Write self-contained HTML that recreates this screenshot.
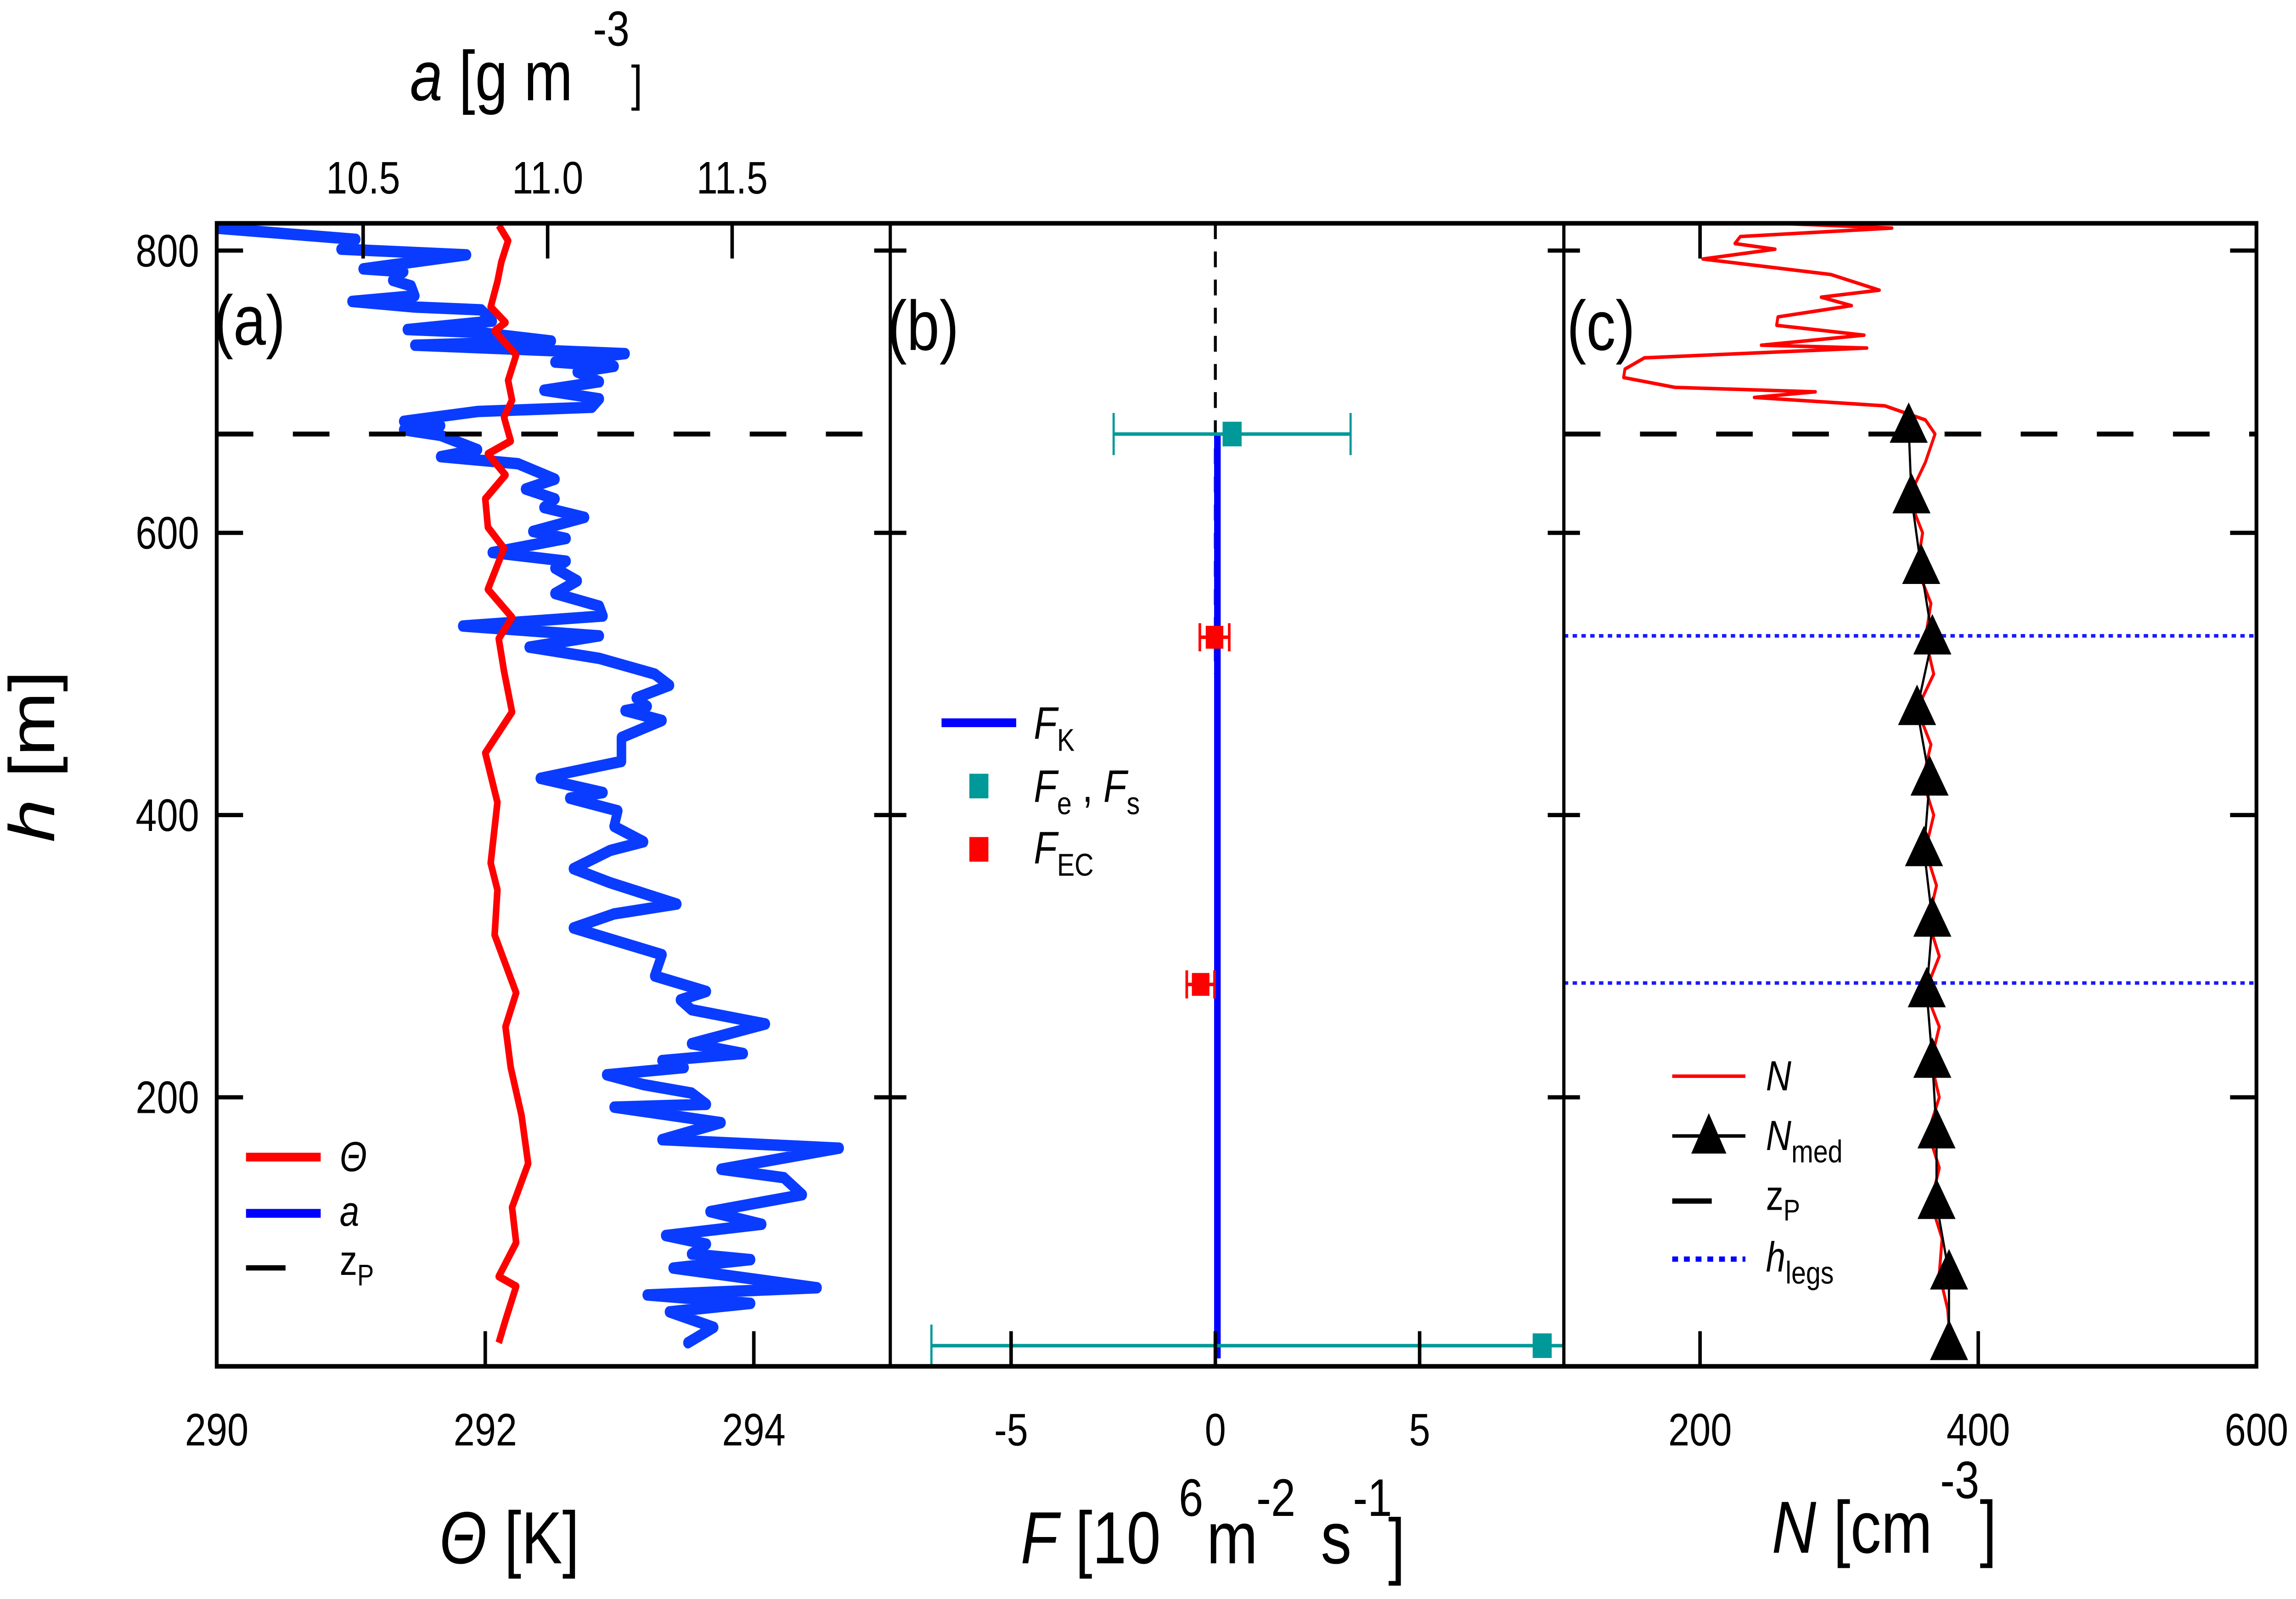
<!DOCTYPE html>
<html><head><meta charset="utf-8">
<style>
html,body{margin:0;padding:0;background:#fff;width:100%;height:100%;overflow:hidden;}
svg{display:block;width:100vw;height:100vh;}
text{font-family:"Liberation Sans",Arial,sans-serif;fill:#000;}
</style></head>
<body>
<svg id="fig" xmlns="http://www.w3.org/2000/svg" viewBox="0 0 1568 909.3" preserveAspectRatio="none">
<defs>
<clipPath id="clipA"><rect x="148" y="127" width="460" height="650"/></clipPath>
<clipPath id="clipB"><rect x="608" y="127" width="460" height="650"/></clipPath>
<clipPath id="clipC"><rect x="1068" y="127" width="473" height="650"/></clipPath>
</defs>
<rect x="0" y="0" width="1568" height="909.3" fill="#fff"/>
<g id="series"></g>
<g id="frame"></g>
<g id="axes"></g>

<text x="146" y="196" font-size="40">(a)</text>
<text x="606" y="199" font-size="40">(b)</text>
<text x="1070" y="199" font-size="40">(c)</text>

<text x="280" y="57" font-size="40"><tspan font-style="italic">a</tspan> [g m</text>
<text x="405" y="26" font-size="28">-3</text>
<text x="431" y="57" font-size="28">]</text>
<text transform="translate(37,479) rotate(-90)" font-size="44"><tspan font-style="italic">h</tspan> [m]</text>
<text x="300" y="889" font-size="42"><tspan font-style="italic">Θ</tspan> [K]</text>
<text x="697" y="889" font-size="42"><tspan font-style="italic">F</tspan>  [10</text>
<text x="805" y="862" font-size="30">6</text>
<text x="824" y="889" font-size="42">m</text>
<text x="858" y="862" font-size="30">-2</text>
<text x="902" y="889" font-size="42">s</text>
<text x="924" y="862" font-size="30">-1</text>
<text x="948" y="893" font-size="42">]</text>
<text x="1210" y="883" font-size="42"><tspan font-style="italic">N</tspan> [cm</text>
<text x="1325" y="852" font-size="30">-3</text>
<text x="1352" y="883" font-size="42">]</text>

<g>
<line x1="168" y1="658" x2="219" y2="658" stroke="#ff0000" stroke-width="5"/>
<text x="232" y="666" font-size="24" font-style="italic">Θ</text>
<line x1="168" y1="690" x2="219" y2="690" stroke="#0000ff" stroke-width="5"/>
<text x="232" y="697" font-size="24" font-style="italic">a</text>
<line x1="168" y1="721" x2="195" y2="721" stroke="#000" stroke-width="3"/>
<text x="232" y="725" font-size="24">z<tspan font-size="17" dy="6">P</tspan></text>
</g>
<g>
<line x1="643" y1="411" x2="694" y2="411" stroke="#0000ff" stroke-width="5"/>
<text x="706" y="420" font-size="26"><tspan font-style="italic">F</tspan><tspan font-size="18" dy="7">K</tspan></text>
<rect x="662" y="440" width="13" height="14" fill="#009999"/>
<text x="706" y="456" font-size="26"><tspan font-style="italic">F</tspan><tspan font-size="18" dy="7">e</tspan><tspan dy="-7"> , </tspan><tspan font-style="italic">F</tspan><tspan font-size="18" dy="7">s</tspan></text>
<rect x="662" y="476" width="13" height="14" fill="#ff0000"/>
<text x="706" y="491" font-size="26"><tspan font-style="italic">F</tspan><tspan font-size="18" dy="7">EC</tspan></text>
</g>
<g>
<line x1="1142" y1="612" x2="1192" y2="612" stroke="#ff0000" stroke-width="2"/>
<text x="1206" y="620" font-size="24" font-style="italic">N</text>
<line x1="1142" y1="646" x2="1192" y2="646" stroke="#000" stroke-width="2"/>
<polygon points="1167,633 1155,656 1179,656" fill="#000"/>
<text x="1206" y="654" font-size="24"><tspan font-style="italic">N</tspan><tspan font-size="18" dy="7">med</tspan></text>
<line x1="1142" y1="683" x2="1169" y2="683" stroke="#000" stroke-width="3"/>
<text x="1206" y="688" font-size="24">z<tspan font-size="17" dy="6">P</tspan></text>
<line x1="1142" y1="716" x2="1192" y2="716" stroke="#0000ff" stroke-width="3" stroke-dasharray="4,4"/>
<text x="1206" y="723" font-size="24"><tspan font-style="italic">h</tspan><tspan font-size="18" dy="7">legs</tspan></text>
</g>
</svg>
<script>
const thetaH = [818,807,792,778,760,749,743,726,708,694,682,665,656,641,624,604,589,560,540,525,502,473,444,409,366,347,315,274,250,221,187,153,122,97,73,66,42,26];
const thetaV = [292.10,292.17,292.12,292.09,292.04,292.15,292.07,292.23,292.17,292.20,292.14,292.19,292.02,292.15,292.00,292.02,292.14,292.02,292.20,292.10,292.14,292.20,292.00,292.09,292.04,292.09,292.07,292.23,292.15,292.19,292.27,292.32,292.20,292.23,292.10,292.23,292.15,292.10];
const aH = [816,808,801,797,787,785,779,775,768,764,760,758,750,744,742,736,733,727,721,718,714,707,701,695,689,686,679,676,673,669,659,654,649,638,631,624,618,611,601,596,586,580,575,566,557,548,541,534,527,519,511,500,492,483,477,474,467,455,438,426,416,412,403,392,381,375,362,352,337,330,320,301,286,275,269,262,252,238,231,226,221,216,209,203,195,193,182,170,164,149,143,131,119,110,102,96,89,85,79,65,60,54,48,37,26];
const aV = [10.10,10.48,10.44,10.78,10.50,10.61,10.58,10.63,10.64,10.47,10.64,10.82,10.85,10.62,10.81,11.01,10.64,11.21,11.02,11.18,11.08,11.14,10.99,11.14,11.12,10.81,10.61,10.71,10.61,10.71,10.81,10.71,10.92,11.02,10.94,11.02,10.99,11.10,10.96,11.05,10.85,11.05,11.02,11.08,11.02,11.14,11.15,10.77,11.14,10.95,11.14,11.29,11.33,11.24,11.27,11.21,11.31,11.20,11.20,10.98,11.15,11.06,11.19,11.18,11.26,11.17,11.07,11.17,11.35,11.18,11.07,11.31,11.29,11.43,11.36,11.39,11.59,11.39,11.53,11.31,11.37,11.16,11.26,11.39,11.43,11.18,11.47,11.31,11.79,11.47,11.64,11.69,11.44,11.58,11.32,11.43,11.39,11.55,11.34,11.73,11.27,11.55,11.33,11.45,11.38];
const zP = 670;
const fkH = [670, 15];
const fkV = [0.05, 0.05];
const feH = [670, 24];
const feV = [0.41, 8.0];
const feLo = [-2.49, -6.95];
const feHi = [3.31, 8.65];
const fecH = [526, 280];
const fecV = [-0.02, -0.36];
const fecErr = [0.36, 0.34];
const nH = [820,816,810,805,801,794,783,772,767,761,753,747,740,733,731,724,716,710,703,700,696,690,680,670,650,625,600,575,550,525,500,475,450,425,400,375,350,325,300,275,250,225,200,175,150,125,100,75,50,25];
const nV = [242,338,229,225,254,202,294,329,287,309,256,255,318,244,320,160,146,145,182,283,239,333,362,369,362,350,360,356,366,362,368,356,366,360,368,362,370,364,372,362,372,366,372,364,372,366,374,372,378,380];
const nmedH = [675,625,575,525,475,425,375,325,275,225,175,125,75,25];
const nmedV = [350,352,359,367,356,365,361,367,363,367,370,370,379,379];
const hLegs = [527, 281];
const thetaTicks = [290,292,294];
const aTicks = [10.5,11.0,11.5];
const fTicks = [-5,0,5];
const nTicks = [200,400,600];
const hTicks = [200,400,600,800];

const yH = h => 784.5 - 0.8025*h;
const xT = t => 148 + 91.7*(t-290);
const xA = a => 248 + 252*(a-10.5);
const xF = f => 830 + 27.9*f;
const xN = n => 1161 + 0.95*(n-200);

const NS = "http://www.w3.org/2000/svg";
function mk(tag, parent, attrs){const e=document.createElementNS(NS,tag);for(const k in attrs)e.setAttribute(k,attrs[k]);parent.appendChild(e);return e;}
const series=document.getElementById('series');
const frame=document.getElementById('frame');
const axes=document.getElementById('axes');

const gA=mk('g',series,{'clip-path':'url(#clipA)'});
const gB=mk('g',series,{'clip-path':'url(#clipB)'});
const gC=mk('g',series,{'clip-path':'url(#clipC)'});

function poly(xs){return xs.join(' ');}
let p=mk('polyline',gA,{points:poly(aH.map((h,i)=>xA(aV[i]).toFixed(1)+','+yH(h).toFixed(1))),fill:'none',stroke:'#0a3cff','stroke-width':6.5,'stroke-linejoin':'round','stroke-linecap':'round'});


p=mk('polyline',gA,{points:poly(thetaH.map((h,i)=>xT(thetaV[i]).toFixed(1)+','+yH(h).toFixed(1))),fill:'none',stroke:'#ff0000','stroke-width':4.5,'stroke-linejoin':'round'});


[[148,608],[1068,1541]].forEach((r,i)=>{
  const l=mk('line',series,{x1:r[0],x2:r[1],y1:yH(zP),y2:yH(zP),stroke:'#000','stroke-width':2.8,'stroke-dasharray':'25,27'});
  
  
});
let l=mk('line',gB,{x1:xF(0),x2:xF(0),y1:127,y2:yH(500),stroke:'#000','stroke-width':2,'stroke-dasharray':'9,7'});


l=mk('line',gB,{x1:xF(fkV[0]),x2:xF(fkV[1]),y1:yH(fkH[0]),y2:yH(fkH[1]),stroke:'#0000ff','stroke-width':4.5});


feH.forEach((h,i)=>{
  const y=yH(h);
  let e=mk('line',gB,{x1:xF(feLo[i]),x2:xF(feHi[i]),y1:y,y2:y,stroke:'#009999','stroke-width':2});
  
  
  [feLo[i],feHi[i]].forEach(v=>{const c=mk('line',gB,{x1:xF(v),x2:xF(v),y1:y-12,y2:y+12,stroke:'#009999','stroke-width':1.5});
    
    });
  e=mk('rect',gB,{x:xF(feV[i])-6.5,y:y-7,width:13,height:14,fill:'#009999'});
  
  
});
fecH.forEach((h,i)=>{
  const y=yH(h);
  let e=mk('line',gB,{x1:xF(fecV[i]-fecErr[i]),x2:xF(fecV[i]+fecErr[i]),y1:y,y2:y,stroke:'#ff0000','stroke-width':2});
  
  
  [fecV[i]-fecErr[i],fecV[i]+fecErr[i]].forEach(v=>{const c=mk('line',gB,{x1:xF(v),x2:xF(v),y1:y-8,y2:y+8,stroke:'#ff0000','stroke-width':1.8});
    
    });
  e=mk('rect',gB,{x:xF(fecV[i])-6,y:y-6.5,width:12,height:13,fill:'#ff0000'});
  
  
});
hLegs.forEach(h=>{
  const e=mk('line',gC,{x1:1068,x2:1541,y1:yH(h),y2:yH(h),stroke:'#1a1aff','stroke-width':2,'stroke-dasharray':'3,3'});
  
  
});
p=mk('polyline',gC,{points:poly(nH.map((h,i)=>xN(nV[i]).toFixed(1)+','+yH(h).toFixed(1))),fill:'none',stroke:'#ff0000','stroke-width':2,'stroke-linejoin':'round'});


p=mk('polyline',gC,{points:poly(nmedH.map((h,i)=>xN(nmedV[i]).toFixed(1)+','+yH(h).toFixed(1))),fill:'none',stroke:'#000','stroke-width':1.5});


nmedH.forEach((h,i)=>{
  const x=xN(nmedV[i]),y=yH(h);
  const t=mk('polygon',gC,{points:`${x},${y-14} ${x-13},${y+9} ${x+13},${y+9}`,fill:'#000'});
  
  
});

const fr=mk('rect',frame,{x:148,y:127,width:1393,height:650,fill:'none',stroke:'#000','stroke-width':2.6});


[608,1068].forEach(x=>{const d=mk('line',frame,{x1:x,x2:x,y1:127,y2:777,stroke:'#000','stroke-width':2.2});
  
  });
function tick(x1,y1,x2,y2,name){const t=mk('line',axes,{x1,y1,x2,y2,stroke:'#000','stroke-width':2.4});
  
  }
function label(x,y,s,name,anchor){const t=mk('text',axes,{x,y,'font-size':26,'text-anchor':anchor||'middle'});t.textContent=s;
  
  }
hTicks.forEach(h=>{const y=yH(h);
  tick(148,y,166,y,'y-tick');
  tick(597,y,619,y,'y-tick');
  tick(1057,y,1079,y,'y-tick');
  tick(1523,y,1541,y,'y-tick');
  label(136,y+9,String(h),'y-tick-label','end');});
thetaTicks.forEach(t=>{const x=xT(t);tick(x,777,x,757,'x-tick-theta');label(x,822,String(t),'x-tick-label-theta');});
fTicks.forEach(f=>{const x=xF(f);tick(x,777,x,757,'x-tick-flux');label(x,822,String(f),'x-tick-label-flux');});
nTicks.forEach(n=>{const x=xN(n);if(x<1541)tick(x,777,x,757,'x-tick-n');label(x,822,String(n),'x-tick-label-n');});
aTicks.forEach(a=>{const x=xA(a);tick(x,127,x,147,'top-tick-a');label(x,110,a.toFixed(1),'top-tick-label-a');});
[200,600].forEach(n=>{const x=xN(n);tick(x,127,x,147,'top-tick-n');});
</script>
</body></html>
